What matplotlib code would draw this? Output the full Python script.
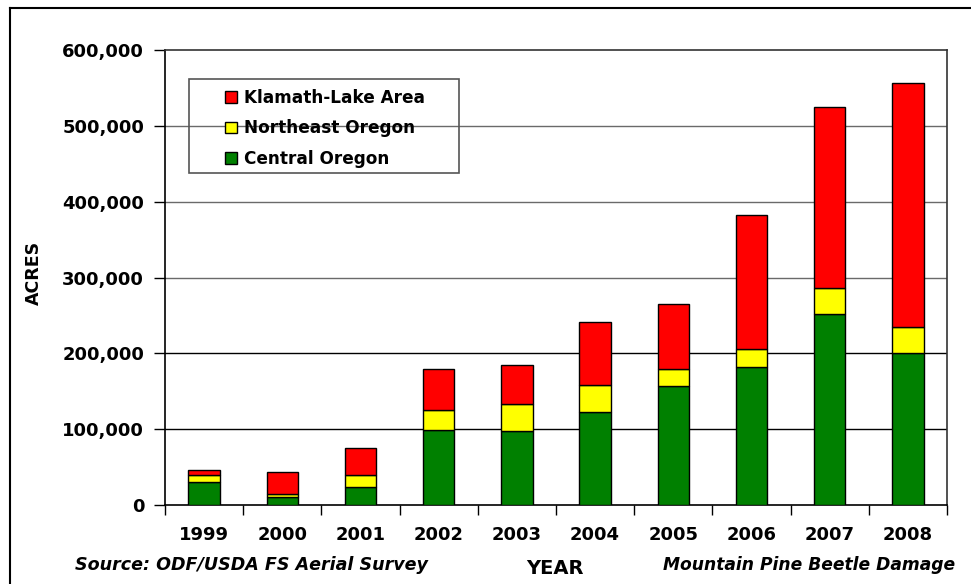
import matplotlib
matplotlib.use("Agg")
import matplotlib.pyplot as plt
from matplotlib.patches import Rectangle
from matplotlib.ticker import FuncFormatter, MultipleLocator, FixedLocator
import numpy as np

years = ["1999", "2000", "2001", "2002", "2003", "2004", "2005", "2006", "2007", "2008"]
central_oregon = [30000, 11000, 23500, 99000, 98000, 122000, 156500, 182500, 251500, 201000]
northeast_oregon = [9500, 4000, 15500, 26000, 35500, 36500, 22500, 23500, 34000, 33500]
klamath_lake = [6000, 28000, 36000, 54000, 51000, 82500, 86000, 177000, 239000, 322000]

series_names = ["Central Oregon", "Northeast Oregon", "Klamath-Lake Area"]
series_colors = ["#008000", "#FFFF00", "#FF0000"]

plt.rcParams["font.family"] = "DejaVu Sans"
plt.rcParams["font.weight"] = "bold"

W, H = 971, 584
fig = plt.figure(figsize=(W / 100, H / 100), dpi=100)
ax = fig.add_axes([165 / W, (H - 505) / H, (947 - 165) / W, (505 - 50) / H])

x = np.arange(len(years))
bottom = np.zeros(len(years))
for name, vals, col in zip(series_names, [central_oregon, northeast_oregon, klamath_lake], series_colors):
    ax.bar(x, vals, width=0.4, bottom=bottom, color=col, edgecolor="black",
           linewidth=1, label=name, zorder=3)
    bottom += np.array(vals)

ax.set_xlim(-0.5, len(years) - 0.5)
ax.set_ylim(0, 600000)

# horizontal gridlines
ax.yaxis.set_major_locator(MultipleLocator(100000))
for yv in range(100000, 600000, 100000):
    c = "black" if yv <= 200000 else "#6a6a6a"
    ax.axhline(yv, color=c, linewidth=1, zorder=1)

ax.yaxis.set_major_formatter(FuncFormatter(lambda v, p: f"{int(v):,}"))
ax.tick_params(axis="y", direction="out", length=8, width=1, pad=7,
               labelsize=13, colors="black")
for lab in ax.get_yticklabels():
    lab.set_fontweight("bold")

ax.set_xticks(x)
ax.set_xticklabels(years, fontsize=13, fontweight="bold")
ax.tick_params(axis="x", which="major", length=0, pad=15)
ax.xaxis.set_minor_locator(FixedLocator(np.arange(-0.5, len(years), 1.0)))
ax.tick_params(axis="x", which="minor", direction="out", length=7, width=1)

for sp in ax.spines.values():
    sp.set_linewidth(1.2)
    sp.set_color("black")
ax.spines["top"].set_color("#333333")
ax.spines["right"].set_color("#333333")

ax.set_ylabel("ACRES", fontsize=12.5, fontweight="bold")
ax.yaxis.set_label_coords((43 - 165) / (947 - 165), (505 - 273) / (505 - 50))

# legend: top-down order Klamath, Northeast, Central
handles, labels = ax.get_legend_handles_labels()
leg = fig.legend(handles[::-1], labels[::-1], loc="upper left",
                 bbox_to_anchor=(213 / W, 1 - 77 / H), frameon=False,
                 prop={"weight": "bold", "size": 12.2},
                 handlelength=0.7, handleheight=0.7, handletextpad=0.4,
                 labelspacing=0.74, borderpad=0.2)
for h in leg.legend_handles:
    h.set_edgecolor("black")
fig.patches.append(Rectangle((189 / W, 1 - 173 / H), (459 - 189) / W, (173 - 79) / H,
                             transform=fig.transFigure, fill=False,
                             edgecolor="#555555", linewidth=1.2, zorder=5))

# outer frame around the whole chart
fig.add_artist(plt.Line2D([10 / W, 10 / W], [0, 1 - 8 / H], transform=fig.transFigure,
                          color="black", linewidth=1.5))
fig.add_artist(plt.Line2D([10 / W, 1], [1 - 8 / H, 1 - 8 / H], transform=fig.transFigure,
                          color="black", linewidth=1.5))

fig.text(555 / W, 1 - 569 / H, "YEAR", ha="center", va="center",
         fontsize=14, fontweight="bold")
fig.text(75 / W, 1 - 565 / H, "Source: ODF/USDA FS Aerial Survey", ha="left",
         va="center", fontsize=12.6, fontweight="bold", style="italic")
fig.text(955 / W, 1 - 565 / H, "Mountain Pine Beetle Damage", ha="right",
         va="center", fontsize=12.3, fontweight="bold", style="italic")

fig.savefig("out.png", dpi=100, facecolor="white")
